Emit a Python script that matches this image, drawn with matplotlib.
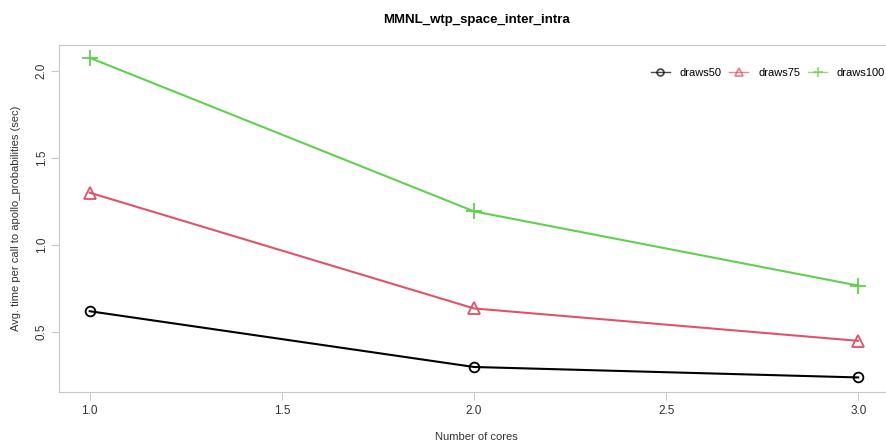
import matplotlib
matplotlib.use("Agg")
from matplotlib import pyplot as plt

# data
cores = [1.0, 2.0, 3.0]
draws50 = [0.62, 0.30, 0.24]
draws75 = [1.30, 0.636, 0.45]
draws100 = [2.074, 1.193, 0.767]
series_names = ["draws50", "draws75", "draws100"]

plt.rcParams['font.family'] = ['Liberation Sans', 'DejaVu Sans']

W, H = 887, 443
fig = plt.figure(figsize=(W / 100, H / 100), dpi=100)
ax = fig.add_axes([59 / W, 1 - 392 / H, (889 - 59) / W, (392 - 45) / H])

styles = [
    dict(color="black", marker="o", mfc="none", ms=7),
    dict(color="#DF536B", marker="^", mfc="none", ms=8),
    dict(color="#61D04F", marker="+", ms=11),
]
for vals, name, st in zip([draws50, draws75, draws100], series_names, styles):
    ax.plot(cores, vals, lw=1.5, mew=1.3, label=name, **st)

ax.set_xlim(0.92, 3.08)
ax.set_ylim(0.1565, 2.1475)
ax.set_xticks([1.0, 1.5, 2.0, 2.5, 3.0])
ax.set_xticklabels(["1.0", "1.5", "2.0", "2.5", "3.0"])
ax.set_yticks([0.5, 1.0, 1.5, 2.0])
ax.set_yticklabels(["0.5", "1.0", "1.5", "2.0"], rotation=90, va="center")

for s in ax.spines.values():
    s.set_color("#c8c8c8")
    s.set_linewidth(0.8)
ax.tick_params(colors="#c8c8c8", labelcolor="#333333", labelsize=8.5, length=6, width=0.8)
ax.tick_params(axis="x", pad=3)
ax.tick_params(axis="y", pad=2)

fig.text(476 / W, 1 - 20 / H, "MMNL_wtp_space_inter_intra", ha="center", va="center",
         fontsize=9.5, fontweight="bold")
fig.text(476 / W, 1 - 437 / H, "Number of cores", ha="center", va="center", fontsize=8, color="#333333")
fig.text(16 / W, 1 - 218 / H, "Avg. time per call to apollo_probabilities (sec)", ha="center", va="center",
         rotation=90, fontsize=8, color="#333333")

leg = ax.legend(loc="upper right", bbox_to_anchor=(893 / W, 1 - 60 / H), bbox_transform=fig.transFigure,
                ncol=3, frameon=False, fontsize=8, handlelength=1.7, handletextpad=0.9,
                columnspacing=0.7, markerscale=0.7, borderpad=0.2)
for h in leg.legend_handles:
    h.set_linewidth(1.0)
    h.set_alpha(0.7)

fig.savefig("out.png", dpi=100)
